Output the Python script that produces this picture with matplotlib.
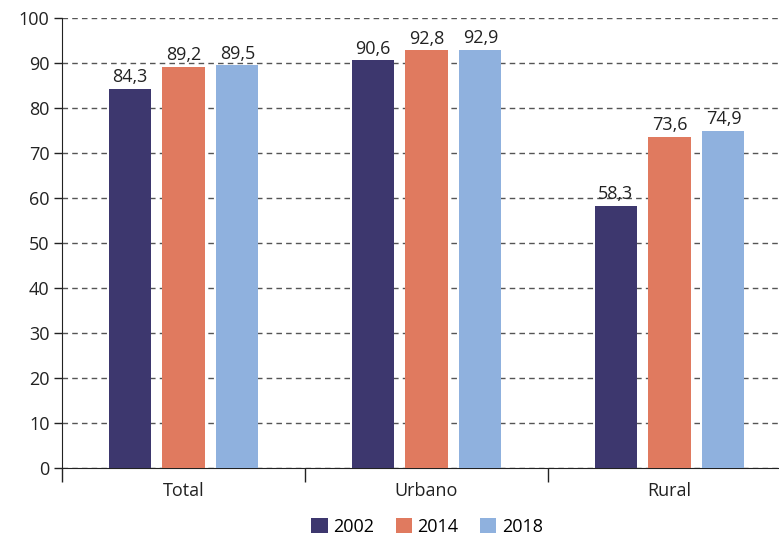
import numpy as np
import matplotlib
matplotlib.use("Agg")
import matplotlib.pyplot as plt

plt.rcParams['font.family'] = ['Open Sans', 'DejaVu Sans']

# data
categories = ["Total", "Urbano", "Rural"]
years = ["2002", "2014", "2018"]
v2002 = [84.3, 90.6, 58.3]
v2014 = [89.2, 92.8, 73.6]
v2018 = [89.5, 92.9, 74.9]
colors = ["#3D376E", "#E07A5F", "#8FB1DE"]

fig = plt.figure(figsize=(7.79, 5.39), dpi=100)
ax = fig.add_axes([62/779, 71/539, 729/779, 450/539])

x = np.arange(len(categories))
width = 0.173
step = 0.222
series = [v2002, v2014, v2018]
for i, vals in enumerate(series):
	bars = ax.bar(x + (i - 1) * step, vals, width, color=colors[i], label=years[i], zorder=3)
	for b, v in zip(bars, vals):
		ax.text(b.get_x() + b.get_width()/2, v + 0.6, ("%.1f" % v).replace(".", ","),
				ha="center", va="bottom", fontsize=13, color="#222222", zorder=4)

ax.set_xlim(-0.5, 2.5)
ax.set_ylim(0, 100)
ax.set_yticks(range(0, 101, 10))
ax.tick_params(axis="y", labelsize=13, length=6, width=1, colors="#222222", pad=3)
ax.yaxis.grid(True, linestyle=(0, (4, 3)), color="#555555", linewidth=1, zorder=0)

ax.set_xticks(x)
ax.set_xticklabels(categories, fontsize=13)
ax.tick_params(axis="x", which="major", length=0, pad=10, colors="#222222")
ax.set_xticks([-0.5, 0.5, 1.5, 2.5], minor=True)
ax.tick_params(axis="x", which="minor", length=10, width=1, color="#222222")

for s in ["top", "right"]:
	ax.spines[s].set_visible(False)
ax.spines["left"].set_color("#222222")
ax.spines["bottom"].set_color("#222222")

fig.legend(loc="center", bbox_to_anchor=(427/779, 12/539), ncol=3, frameon=False,
		   fontsize=13, handlelength=0.9, handleheight=0.9, handletextpad=0.3, columnspacing=1.2)

fig.savefig("out.png", dpi=100)
